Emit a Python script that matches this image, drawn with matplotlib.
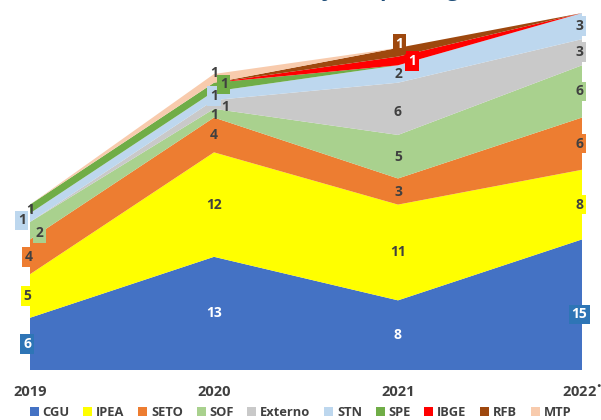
import matplotlib.pyplot as plt
import numpy as np

plt.rcParams['font.family'] = ['Open Sans', 'DejaVu Sans']

years = [2019, 2020, 2021, 2022]
year_labels = ['2019', '2020', '2021', '2022$^{\\bullet}$']
series = ['CGU', 'IPEA', 'SETO', 'SOF', 'Externo', 'STN', 'SPE', 'IBGE', 'RFB', 'MTP']
cgu = [6, 13, 8, 15]
ipea = [5, 12, 11, 8]
seto = [4, 4, 3, 6]
sof = [2, 1, 5, 6]
externo = [0, 1, 6, 3]
stn = [1, 1, 2, 3]
spe = [1, 1, 0, 0]
ibge = [0, 0, 1, 0]
rfb = [0, 0, 1, 0]
mtp = [0, 1, 0, 0]
values = [cgu, ipea, seto, sof, externo, stn, spe, ibge, rfb, mtp]

colors = ['#4472C4', '#FFFF00', '#ED7D31', '#A9D18E', '#C9C9C9',
          '#BDD7EE', '#70AD47', '#FF0000', '#9E480E', '#F8CBAD']
box_colors = ['#2E75B6', '#FFFF00', '#ED7D31', '#A9D18E', '#C9C9C9',
              '#BDD7EE', '#70AD47', '#FF0000', '#9E480E', '#F8CBAD']
txt_dark = '#404040'

fig = plt.figure(figsize=(6.01, 4.2), dpi=100)
ax = fig.add_axes([30 / 601, 50 / 420, 552 / 601, 370 / 420])
ax.stackplot(years, values, colors=colors, labels=series, linewidth=0)
ax.set_xlim(2019, 2022)
ax.set_ylim(0, 42.5)
ax.set_yticks([])
ax.set_xticks(years)
ax.set_xticklabels(year_labels, fontsize=10.5, fontweight='bold', color=txt_dark)
ax.tick_params(axis='x', length=0, pad=11)
for s in ax.spines.values():
    s.set_visible(False)
ax.patch.set_alpha(0)

# (series index, year index, dx points, dy points, boxed)
labels = [
    (0, 0, -2, 0, True), (1, 0, -2, 0, True), (2, 0, -1, 0, True),
    (3, 0, 7, -2, True), (5, 0, -6, -2, True), (6, 0, 0, -1, False),
    (0, 1, 0, 0, False), (1, 1, 0, 0, False), (2, 1, 0, 0, False),
    (3, 1, 0, -1, False), (4, 1, 8, -2, False), (5, 1, 0, 0, True),
    (6, 1, 7, 2, True), (9, 1, 0, 4, False),
    (0, 2, 0, 0, False), (1, 2, 0, 0, False), (2, 2, 0, 0, False),
    (3, 2, 0, 0, False), (4, 2, 0, -2, False), (5, 2, 0, 0, False),
    (7, 2, 10, 0, True), (8, 2, 1, 6, True),
    (0, 3, -2, -7, True), (1, 3, -2, 0, True), (2, 3, -2, 0, True),
    (3, 3, -2, 0, True), (4, 3, -2, 0, True), (5, 3, -2, 0, True),
]
cum = np.cumsum(np.array(values), axis=0)
for si, yi, dx, dy, boxed in labels:
    v = values[si][yi]
    mid = cum[si][yi] - v / 2
    tc = 'white' if si in (0, 7, 8) else txt_dark
    bbox = None
    if boxed:
        bbox = dict(boxstyle='square,pad=0.2', fc=box_colors[si], ec='none')
    ax.annotate(str(v), (years[yi], mid), xytext=(dx, dy), textcoords='offset points',
                ha='center', va='center', fontsize=10, fontweight='bold',
                color=tc, bbox=bbox, annotation_clip=False)

handles, lbls = ax.get_legend_handles_labels()
leg = fig.legend(handles, lbls, loc='lower center', bbox_to_anchor=(0.5, -0.025),
                 ncol=10, frameon=False, handlelength=0.7, handleheight=0.7,
                 handletextpad=0.3, columnspacing=1.05, fontsize=9.3)
for t in leg.get_texts():
    t.set_color(txt_dark)
    t.set_fontweight('bold')

# title is cut at the top edge in the original
fig.text(0.51, 1 + 4 / 420, 'Quantidade de Projetos por Órgão', ha='center',
         va='baseline', fontsize=15, fontweight='bold', color='#1F4E79')

fig.savefig('out.png', dpi=100)
